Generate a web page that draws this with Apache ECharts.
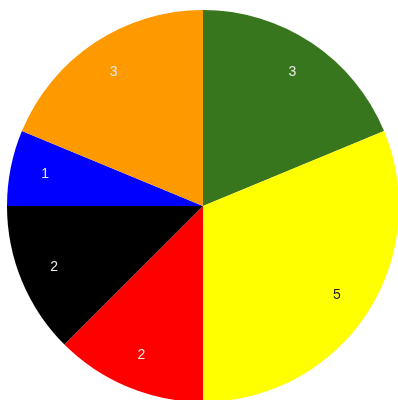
<!DOCTYPE html>
<html><head><meta charset="utf-8">
<script src="https://cdn.jsdelivr.net/npm/echarts@6/dist/echarts.min.js"></script>
<style>html,body{margin:0;padding:0;background:#fff}#c{width:398px;height:400px}</style>
</head><body><div id="c"></div>
<script>
const categories = ['A', 'B', 'C', 'D', 'E', 'F'];
const values = [3, 5, 2, 2, 1, 3];
const colors = ['#38761d', '#ffff00', '#ff0000', '#000000', '#0000ff', '#ff9900'];
const labelColors = ['#e8e8e8', '#222222', '#e8e8e8', '#e8e8e8', '#e8e8e8', '#e8e8e8'];

const chart = echarts.init(document.getElementById('c'));
const base = categories.map((c, i) => ({ name: c, value: values[i] }));
chart.setOption({
  animation: false,
  series: [
    {
      type: 'pie', center: [203, 206], radius: 196, startAngle: 90, clockwise: true,
      label: { show: false }, labelLine: { show: false }, silent: true,
      data: base.map((d, i) => ({ ...d, itemStyle: { color: colors[i] } }))
    },
    {
      type: 'pie', center: [203, 206], radius: [120, 196], startAngle: 90, clockwise: true,
      silent: true, labelLine: { show: false },
      label: { show: true, position: 'inside', formatter: '{c}', fontSize: 14, fontFamily: 'Liberation Sans, Arial, sans-serif' },
      data: base.map((d, i) => ({ ...d, itemStyle: { color: 'rgba(0,0,0,0)' }, label: { color: labelColors[i] } }))
    }
  ]
});
</script></body></html>
